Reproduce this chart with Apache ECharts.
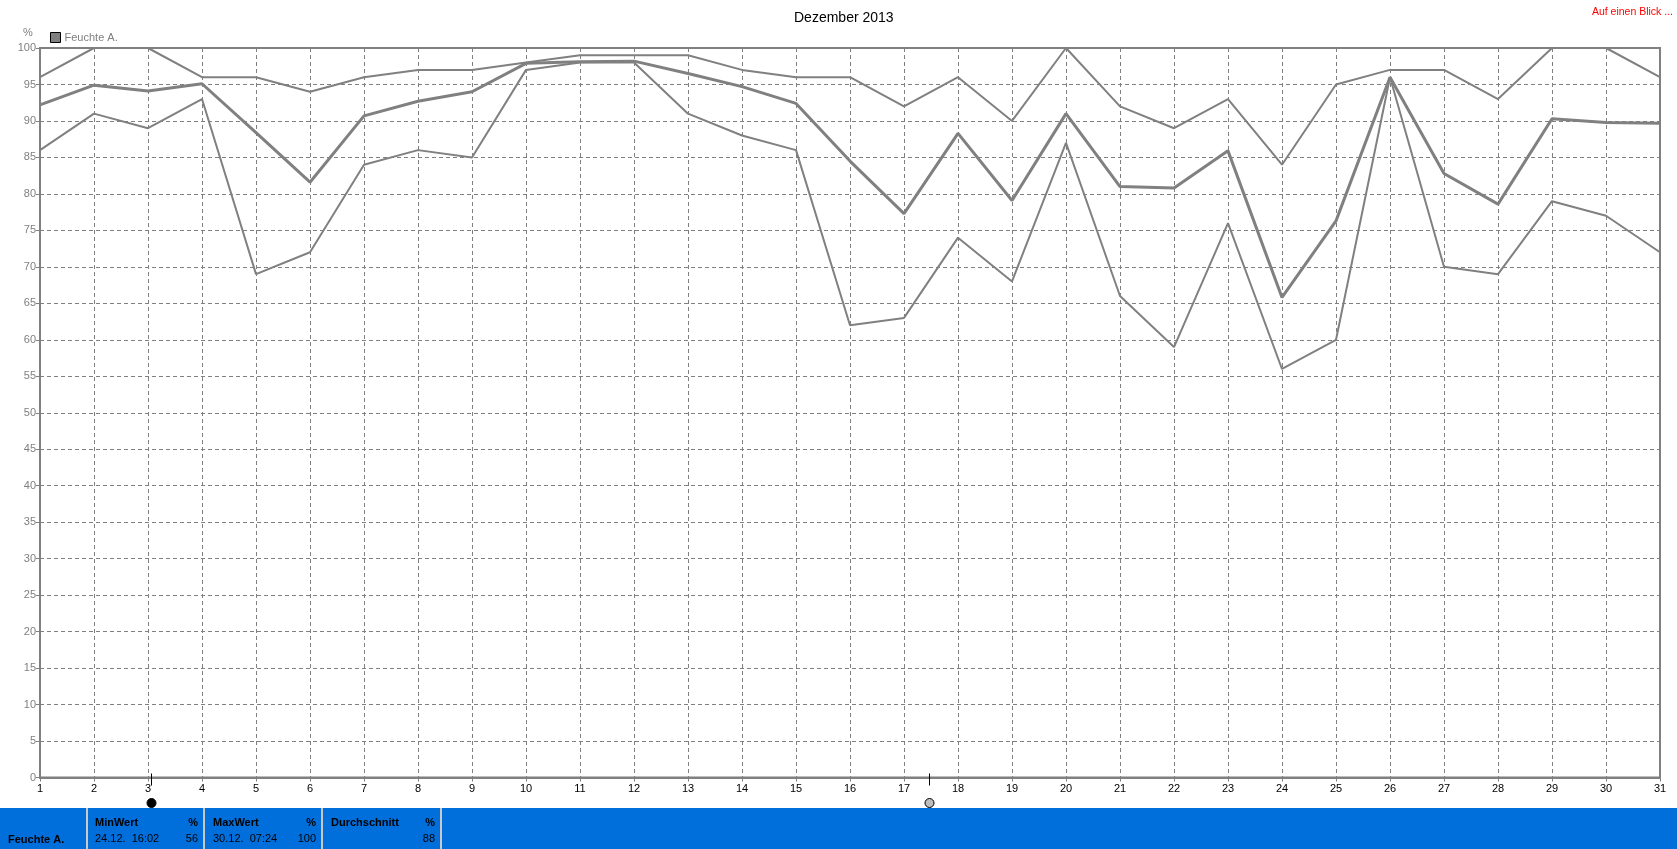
<!DOCTYPE html>
<html>
<head>
<meta charset="utf-8">
<style>
html,body{margin:0;padding:0;background:#fff;}
#c{width:1677px;height:849px;}
</style>
<script src="https://cdn.jsdelivr.net/npm/echarts@6/dist/echarts.min.js"></script>
</head>
<body>
<div id="c"></div>
<script>
// ---- data ----
var days = [1,2,3,4,5,6,7,8,9,10,11,12,13,14,15,16,17,18,19,20,21,22,23,24,25,26,27,28,29,30,31];
var maxValues  = [96,100,100,96,96,94,96,97,97,98,99,99,99,97,96,96,92,96,90,100,92,89,93,84,95,97,97,93,100,100,96];
var meanValues = [92.2,94.9,94.1,95.1,88.4,81.6,90.7,92.7,94.0,97.9,98.1,98.2,96.5,94.7,92.4,84.5,77.3,88.3,79.1,91.0,81.0,80.8,85.9,65.8,76.3,96.0,82.8,78.6,90.3,89.8,89.7];
var minValues  = [86,91,89,93,69,72,84,86,85,97,98,98,91,88,86,62,63,74,68,87,66,59,76,56,60,96,70,69,79,77,72];
var xTicks = {min:1, max:31, step:1};
var yTicks = {min:0, max:100, step:5};
var moonDays = [3.06, 17.46];   // new moon, full moon
var moonKinds = ['new', 'full'];
var seriesName = 'Feuchte A.';
var summaryHeaders = ['MinWert', 'MaxWert', 'Durchschnitt'];
var summaryUnits = ['%', '%', '%'];
var summaryTimes = ['24.12.  16:02', '30.12.  07:24', ''];
var summaryValues = ['56', '100', '88'];

function pairs(vals){ return days.map(function(d,i){ return [d, vals[i]]; }); }

var GRAY = '#808080';
var FONT = '"Liberation Sans", Arial, sans-serif';
var chart = echarts.init(document.getElementById('c'), null, {renderer:'canvas'});

var panelTop = 808;
var graphics = [
  {type:'text', left:23, top:27, style:{text:'%', font:'11px ' + FONT, fill:GRAY}},
  {type:'text', x:1673, y:12, style:{text:'Auf einen Blick ...', font:'10.5px ' + FONT, fill:'#ff0000', textAlign:'right', textVerticalAlign:'middle'}},
  {type:'rect', shape:{x:0, y:panelTop, width:1677, height:849-panelTop}, style:{fill:'#006fdc'}, z:0}
];
// panel separators
[87, 204, 322, 441].forEach(function(x){
  graphics.push({type:'rect', shape:{x:x-1, y:panelTop, width:2, height:849-panelTop}, style:{fill:'#c8c8c8'}, z:1});
});
graphics.push({type:'text', x:8, y:840, style:{text:seriesName, font:'bold 11px ' + FONT, fill:'#000', textVerticalAlign:'middle'}, z:2});
var cellL = [95, 213, 331], cellR = [198, 316, 435];
for (var i=0;i<3;i++){
  graphics.push({type:'text', x:cellL[i], y:823, style:{text:summaryHeaders[i], font:'bold 11px ' + FONT, fill:'#000', textVerticalAlign:'middle'}, z:2});
  graphics.push({type:'text', x:cellR[i], y:823, style:{text:summaryUnits[i], font:'bold 11px ' + FONT, fill:'#000', textAlign:'right', textVerticalAlign:'middle'}, z:2});
  graphics.push({type:'text', x:cellL[i], y:839, style:{text:summaryTimes[i], font:'11px ' + FONT, fill:'#000', textVerticalAlign:'middle'}, z:2});
  graphics.push({type:'text', x:cellR[i], y:839, style:{text:summaryValues[i], font:'11px ' + FONT, fill:'#000', textAlign:'right', textVerticalAlign:'middle'}, z:2});
}

var lineCommon = {type:'line', showSymbol:false, symbol:'none', animation:false, silent:true, z:3};

var option = {
  animation:false,
  backgroundColor:'#fff',
  title:{text:'Dezember 2013', left:789, top:6, textStyle:{fontSize:14, fontWeight:'normal', color:'#000', fontFamily:FONT}},
  legend:{
    left:50, top:32, padding:0, itemWidth:10, itemHeight:10, icon:'rect', itemGap:5,
    data:[{name:seriesName, icon:'rect', itemStyle:{color:GRAY, borderColor:'#000', borderWidth:1}}],
    textStyle:{fontSize:11, color:GRAY, fontFamily:FONT, padding:[0,0,0,-1]}
  },
  grid:{left:40, top:48, right:17, bottom:71.5, show:true, borderColor:GRAY, borderWidth:2, backgroundColor:'transparent'},
  xAxis:{
    type:'value', min:xTicks.min, max:xTicks.max, interval:xTicks.step,
    axisLine:{show:true, onZero:false, lineStyle:{color:GRAY, width:2}},
    axisTick:{show:true, length:4, lineStyle:{color:GRAY}},
    axisLabel:{color:'#000', fontSize:11, fontFamily:FONT, margin:6},
    splitLine:{show:true, lineStyle:{color:GRAY, type:[4,3], width:1}}
  },
  yAxis:{
    type:'value', min:yTicks.min, max:yTicks.max, interval:yTicks.step,
    axisLine:{show:true, lineStyle:{color:GRAY, width:2}},
    axisTick:{show:true, length:4, lineStyle:{color:GRAY}},
    axisLabel:{color:GRAY, fontSize:11, fontFamily:FONT, margin:4},
    splitLine:{show:true, lineStyle:{color:GRAY, type:[4,3], width:1}}
  },
  series:[
    Object.assign({}, lineCommon, {name:'Max', data:pairs(maxValues), lineStyle:{color:GRAY, width:2}, itemStyle:{color:GRAY}}),
    Object.assign({}, lineCommon, {name:'Min', data:pairs(minValues), lineStyle:{color:GRAY, width:2}, itemStyle:{color:GRAY}}),
    Object.assign({}, lineCommon, {name:seriesName, data:pairs(meanValues), lineStyle:{color:GRAY, width:3}, itemStyle:{color:GRAY}})
  ],
  graphic:graphics
};
chart.setOption(option);

// moon phase markers placed through the axis scale
moonDays.forEach(function(d, k){
  var p = chart.convertToPixel({gridIndex:0}, [d, 0]);
  var x = Math.round(p[0]) + 0.5, y0 = p[1];
  graphics.push({type:'line', shape:{x1:x, y1:y0-4, x2:x, y2:y0+8}, style:{stroke:'#000', lineWidth:1}, z:4});
  graphics.push({type:'circle', shape:{cx:x, cy:y0+25.5, r:4.5},
    style: moonKinds[k]==='new' ? {fill:'#000', stroke:'#000', lineWidth:1} : {fill:'#bdbdbd', stroke:'#000', lineWidth:1}, z:4});
});
chart.setOption({graphic:graphics});
</script>
</body>
</html>
